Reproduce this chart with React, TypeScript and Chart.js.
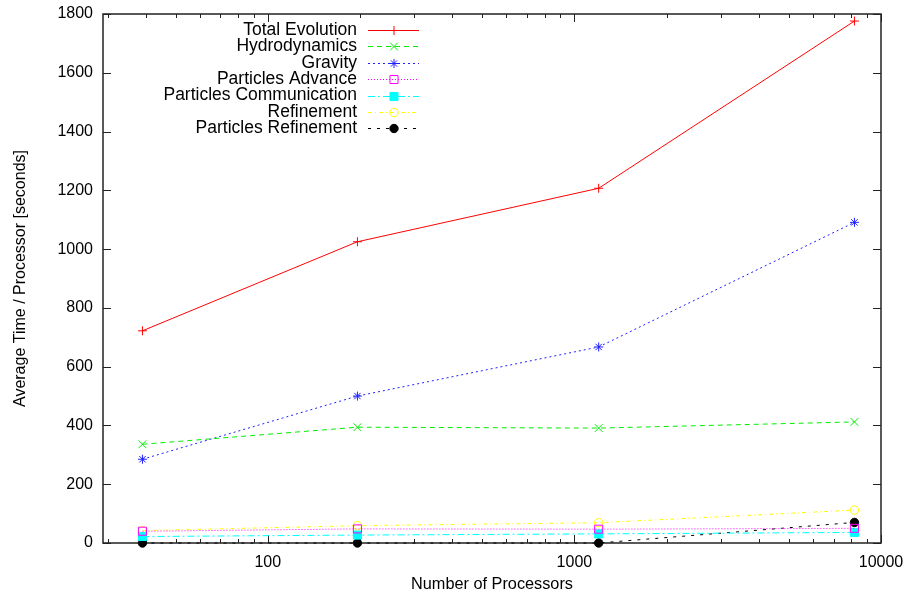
import React, { useEffect, useRef } from "react";
import { Chart, registerables } from "chart.js";
Chart.register(...registerables);

const processors = [39, 196, 1200, 8192];
const totalEvolution = [722, 1025, 1207, 1776];
const hydrodynamics = [336, 394, 391, 412];
const gravity = [285, 500, 667, 1091];
const particlesAdvance = [40, 48, 47, 50];
const particlesCommunication = [22, 27, 31, 36];
const refinement = [42, 59, 69, 112];
const particlesRefinement = [0, 0, 0, 70];

const yTickValues = [0, 200, 400, 600, 800, 1000, 1200, 1400, 1600, 1800];
const xMajorTicks = [100, 1000, 10000];
const xMinorTicks = [30, 40, 50, 60, 70, 80, 90, 200, 300, 400, 500, 600, 700, 800, 900, 2000, 3000, 4000, 5000, 6000, 7000, 8000, 9000];

const FONT = "'Liberation Sans', Arial, Helvetica, sans-serif";

type Series = {
  name: string;
  values: number[];
  color: string;
  dash: number[];
  style: string;
  radius: number;
  filled: boolean;
};

const series: Series[] = [
  { name: "Total Evolution", values: totalEvolution, color: "#ff0000", dash: [], style: "cross", radius: 4.5, filled: false },
  { name: "Hydrodynamics", values: hydrodynamics, color: "#00ee00", dash: [5, 4], style: "crossRot", radius: 5.5, filled: false },
  { name: "Gravity", values: gravity, color: "#2020ff", dash: [2, 3], style: "star", radius: 4.5, filled: false },
  { name: "Particles Advance", values: particlesAdvance, color: "#ff00ff", dash: [1, 2], style: "rect", radius: 5.7, filled: false },
  { name: "Particles Communication", values: particlesCommunication, color: "#00ffff", dash: [7, 3, 2, 3], style: "rect", radius: 5.7, filled: true },
  { name: "Refinement", values: refinement, color: "#ffff00", dash: [4, 3, 1, 3], style: "circle", radius: 4.2, filled: false },
  { name: "Particles Refinement", values: particlesRefinement, color: "#000000", dash: [3, 6], style: "circle", radius: 4.2, filled: true },
];

function drawMarker(ctx: CanvasRenderingContext2D, s: Series, x: number, y: number) {
  const r = s.radius;
  ctx.save();
  ctx.setLineDash([]);
  ctx.lineWidth = 1;
  ctx.strokeStyle = s.color;
  ctx.fillStyle = s.color;
  ctx.beginPath();
  if (s.style === "cross" || s.style === "star") {
    ctx.moveTo(x - r, y);
    ctx.lineTo(x + r, y);
    ctx.moveTo(x, y - r);
    ctx.lineTo(x, y + r);
  }
  if (s.style === "crossRot" || s.style === "star") {
    const d = r * Math.SQRT1_2;
    ctx.moveTo(x - d, y - d);
    ctx.lineTo(x + d, y + d);
    ctx.moveTo(x - d, y + d);
    ctx.lineTo(x + d, y - d);
  }
  if (s.style === "rect") {
    const h = r * Math.SQRT1_2;
    ctx.rect(x - h, y - h, 2 * h, 2 * h);
    if (s.filled) ctx.fill();
  }
  if (s.style === "circle") {
    ctx.arc(x, y, r, 0, Math.PI * 2);
    if (s.filled) ctx.fill();
  }
  ctx.stroke();
  ctx.restore();
}

const framePlugin = {
  id: "gnuplotFrame",
  beforeDatasetsDraw(chart: any) {
    const { ctx, chartArea } = chart;
    const { left, right, top, bottom } = chartArea;
    const xs = chart.scales.x;
    const ys = chart.scales.y;
    ctx.save();
    ctx.strokeStyle = "#222";
    ctx.lineWidth = 1;
    ctx.beginPath();
    for (const v of yTickValues) {
      const py = Math.round(ys.getPixelForValue(v)) + 0.5;
      ctx.moveTo(left, py);
      ctx.lineTo(left + 8, py);
      ctx.moveTo(right, py);
      ctx.lineTo(right - 8, py);
    }
    for (const v of xMajorTicks) {
      const px = Math.round(xs.getPixelForValue(v)) + 0.5;
      ctx.moveTo(px, bottom);
      ctx.lineTo(px, bottom - 8);
      ctx.moveTo(px, top);
      ctx.lineTo(px, top + 8);
    }
    for (const v of xMinorTicks) {
      const px = Math.round(xs.getPixelForValue(v)) + 0.5;
      ctx.moveTo(px, bottom);
      ctx.lineTo(px, bottom - 4);
      ctx.moveTo(px, top);
      ctx.lineTo(px, top + 4);
    }
    ctx.stroke();
    ctx.lineWidth = 1.5;
    ctx.strokeRect(left, top, right - left, bottom - top);
    ctx.restore();
  },
  afterDraw(chart: any) {
    const { ctx } = chart;
    const textRight = 357;
    const lineStart = 368;
    const lineEnd = 419;
    const markerX = 394;
    const y0 = 30;
    const step = 16.4;
    ctx.save();
    ctx.font = `17.5px ${FONT}`;
    ctx.textAlign = "right";
    ctx.textBaseline = "middle";
    series.forEach((s, i) => {
      const y = y0 + i * step;
      ctx.fillStyle = "#000";
      ctx.fillText(s.name, textRight, y);
      ctx.save();
      ctx.strokeStyle = s.color;
      ctx.lineWidth = 1;
      ctx.setLineDash(s.dash);
      ctx.beginPath();
      ctx.moveTo(lineStart, Math.round(y) + 0.5);
      ctx.lineTo(lineEnd, Math.round(y) + 0.5);
      ctx.stroke();
      ctx.restore();
      drawMarker(ctx, s, markerX, Math.round(y) + 0.5);
    });
    ctx.restore();
  },
};

export default function App() {
  const canvasRef = useRef<HTMLCanvasElement | null>(null);

  useEffect(() => {
    document.body.style.margin = "0";
    const canvas = canvasRef.current;
    if (!canvas) return;
    const chart = new Chart(canvas, {
      type: "line",
      data: {
        datasets: series.map((s) => ({
          label: s.name,
          data: processors.map((p, i) => ({ x: p, y: s.values[i] })),
          borderColor: s.color,
          borderWidth: 1,
          borderDash: s.dash,
          pointStyle: s.style as any,
          pointRadius: s.radius,
          pointHoverRadius: s.radius,
          pointBorderWidth: 1,
          pointBorderColor: s.color,
          pointBackgroundColor: s.filled ? s.color : "rgba(0,0,0,0)",
          fill: false,
          tension: 0,
          clip: false as any,
        })),
      },
      options: {
        responsive: false,
        animation: false,
        layout: { padding: { top: 14, right: 27, left: 0, bottom: 0 } },
        plugins: {
          legend: { display: false },
          tooltip: { enabled: false },
        },
        scales: {
          x: {
            type: "logarithmic",
            min: 29,
            max: 10000,
            afterFit: (s: any) => {
              s.height = 51;
              s.paddingLeft = 0;
              s.paddingRight = 0;
            },
            afterBuildTicks: (s: any) => {
              s.ticks = xMajorTicks.map((v) => ({ value: v }));
            },
            grid: { display: false, drawTicks: false },
            border: { display: false },
            ticks: {
              autoSkip: false,
              maxRotation: 0,
              padding: 10,
              color: "#000",
              font: { family: FONT, size: 16 },
              callback: (v: any) => String(v),
            },
            title: {
              display: true,
              text: "Number of Processors",
              color: "#000",
              font: { family: FONT, size: 16.3 },
              padding: { top: 2, bottom: 0 },
            },
          },
          y: {
            type: "linear",
            min: 0,
            max: 1800,
            afterFit: (s: any) => {
              s.width = 103;
              s.paddingTop = 0;
              s.paddingBottom = 0;
            },
            grid: { display: false, drawTicks: false },
            border: { display: false },
            ticks: {
              stepSize: 200,
              padding: 10,
              color: "#000",
              font: { family: FONT, size: 16 },
              callback: (v: any) => String(v),
            },
            title: {
              display: true,
              text: "Average Time / Processor [seconds]",
              color: "#000",
              font: { family: FONT, size: 16 },
              padding: { top: 11, bottom: 0 },
            },
          },
        },
      },
      plugins: [framePlugin],
    });
    return () => chart.destroy();
  }, []);

  return (
    <div style={{ position: "fixed", left: 0, top: 0, width: 908, height: 594, background: "#fff" }}>
      <canvas ref={canvasRef} width={908} height={594} style={{ display: "block" }} />
    </div>
  );
}
